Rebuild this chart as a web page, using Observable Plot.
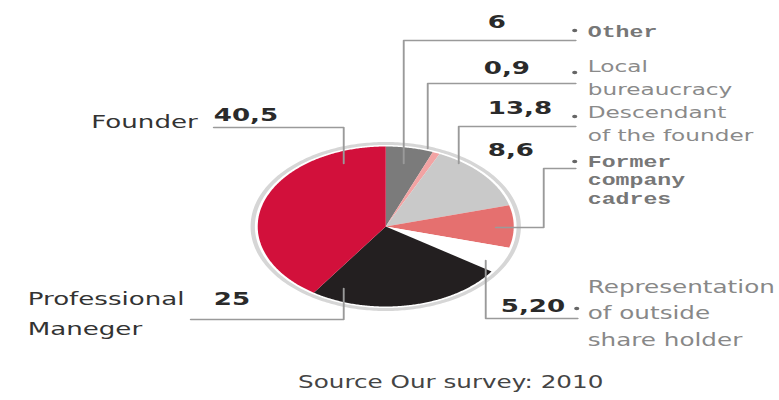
<!DOCTYPE html>
<html><head><meta charset="utf-8">
<script src="https://cdn.jsdelivr.net/npm/d3@7"></script>
<script src="https://cdn.jsdelivr.net/npm/@observablehq/plot@0.6"></script>
<style>body{margin:0;background:#fff} #chart svg{display:block}</style>
</head><body><div id="chart"></div>
<script>
// ---- data ----
const categories = ["Other", "Local bureaucracy", "Descendant of the founder", "Former company cadres",
  "Representation of outside share holder", "Professional Maneger", "Founder"];
const values = [6, 0.9, 13.8, 8.6, 5.2, 25, 40.5];
const valueLabels = ["6", "0,9", "13,8", "8,6", "5,20", "25", "40,5"];
const nameLines = [["Other"], ["Local", "bureaucracy"], ["Descendant", "of the founder"],
  ["Former", "company", "cadres"], ["Representation", "of outside", "share holder"],
  ["Professional", "Maneger"], ["Founder"]];
const sourceText = "Source Our survey: 2010";

// ---- styles & layout ----
const palette = ["#7b7b7b", "#f2a3a3", "#c9c9c9", "#e5706f", "#ffffff", "#231f20", "#d2103b"];
const W = 779, H = 400, stretch = 1.45;
const pie = {cx: 385, cy: 226, rx: 128, ry: 80, ringRx: 133, ringRy: 83};
const leaders = [
  [[575, 40], [403, 40], [403, 163]],
  [[575, 83], [427, 83], [427, 148]],
  [[575, 126], [458, 126], [458, 163]],
  [[575, 168], [543, 168], [543, 227], [495, 227]],
  [[577, 318], [485, 318], [485, 260]],
  [[190, 319], [343, 319], [343, 288]],
  [[213, 127], [343, 127], [343, 163]]
];
const valuePos = [[487, 22], [483, 68], [487, 108], [487, 150], [500, 306], [213, 299], [213, 115]];
// name label: x, first-line y, line spacing, anchor, style kind
const namePos = [
  [587, 31, 18.5, "start", "mono"], [587, 66, 23, "start", "sans"], [587, 112, 23, "start", "sans"],
  [587, 161, 18.5, "start", "mono"], [587, 287, 26.5, "start", "big"],
  [27, 299, 30, "start", "main"], [197, 122, 0, "end", "main"]
];
const dotPos = [[574, 30], [574, 72], [574, 116], [574, 161], [576, 308]];
const nameStyle = {
  mono: {fontFamily: "Liberation Mono", fontSize: 16, fill: "#777", fontWeight: "bold"},
  sans: {fontFamily: "DejaVu Sans", fontSize: 16, fill: "#8a8a8a", fontWeight: "normal"},
  big: {fontFamily: "DejaVu Sans", fontSize: 17, fill: "#888", fontWeight: "normal"},
  main: {fontFamily: "DejaVu Sans", fontSize: 18, fill: "#333", fontWeight: "normal"}
};

// ---- slices from the values ----
const arcs = d3.pie().sort(null).value(d => d)(values);
const slicePts = [];
arcs.forEach((a, i) => {
  slicePts.push({category: categories[i], x: pie.cx, y: pie.cy});
  const n = Math.max(2, Math.ceil((a.endAngle - a.startAngle) / 0.01));
  for (let k = 0; k <= n; k++) {
    const t = a.startAngle + (a.endAngle - a.startAngle) * k / n;
    slicePts.push({category: categories[i], x: pie.cx + pie.rx * Math.sin(t), y: pie.cy - pie.ry * Math.cos(t)});
  }
});
const ringPts = d3.range(0, 360, 1).map(deg => {
  const t = deg * Math.PI / 180;
  return {x: pie.cx + pie.ringRx * Math.sin(t), y: pie.cy - pie.ringRy * Math.cos(t)};
});
const leaderPts = leaders.flatMap((pts, i) => pts.map(([x, y]) => ({category: categories[i], x, y})));
const valueData = valueLabels.map((t, i) => ({text: t, x: valuePos[i][0], y: valuePos[i][1]}));
const nameData = nameLines.flatMap((lines, i) => lines.map((t, j) => ({
  text: t, x: namePos[i][0], y: namePos[i][1] + j * namePos[i][2], anchor: namePos[i][3], kind: namePos[i][4]
})));
const dotData = dotPos.map(([x, y]) => ({x, y}));
const groups = d3.groups(nameData, d => d.kind + "|" + d.anchor);

const marks = [
  Plot.line(ringPts, {x: "x", y: "y", stroke: "#d6d6d6", strokeWidth: 3, curve: "linear-closed"}),
  Plot.line(slicePts, {x: "x", y: "y", z: "category", fill: "category", stroke: "none", curve: "linear-closed"}),
  Plot.line(leaderPts, {x: "x", y: "y", z: "category", stroke: "#9a9a9a", strokeWidth: 1.3}),
  Plot.text(valueData, {x: "x", y: "y", text: "text", textAnchor: "start", fontFamily: "DejaVu Sans",
    fontSize: 18, fontWeight: "bold", fill: "#2a2a2a"}),
  Plot.dot(dotData, {x: "x", y: "y", r: 1.8, fill: "#666", stroke: "none"}),
  ...groups.map(([key, rows]) => {
    const [kind, anchor] = key.split("|");
    return Plot.text(rows, {x: "x", y: "y", text: "text", textAnchor: anchor, ...nameStyle[kind]});
  }),
  Plot.text([sourceText], {x: () => 450, y: () => 382, text: d => d, textAnchor: "middle",
    fontFamily: "DejaVu Sans", fontSize: 17, fill: "#444"})
];

const svg = Plot.plot({
  width: Math.round(W / stretch), height: H,
  margin: 0,
  x: {domain: [0, W], range: [0, Math.round(W / stretch)], axis: null},
  y: {domain: [0, H], range: [0, H], axis: null},
  color: {domain: categories, range: palette},
  marks
});
svg.setAttribute("width", W);
svg.setAttribute("height", H);
svg.setAttribute("preserveAspectRatio", "none");
svg.style.width = W + "px";
svg.style.height = H + "px";
svg.style.maxWidth = "none";
document.getElementById("chart").appendChild(svg);
</script></body></html>
